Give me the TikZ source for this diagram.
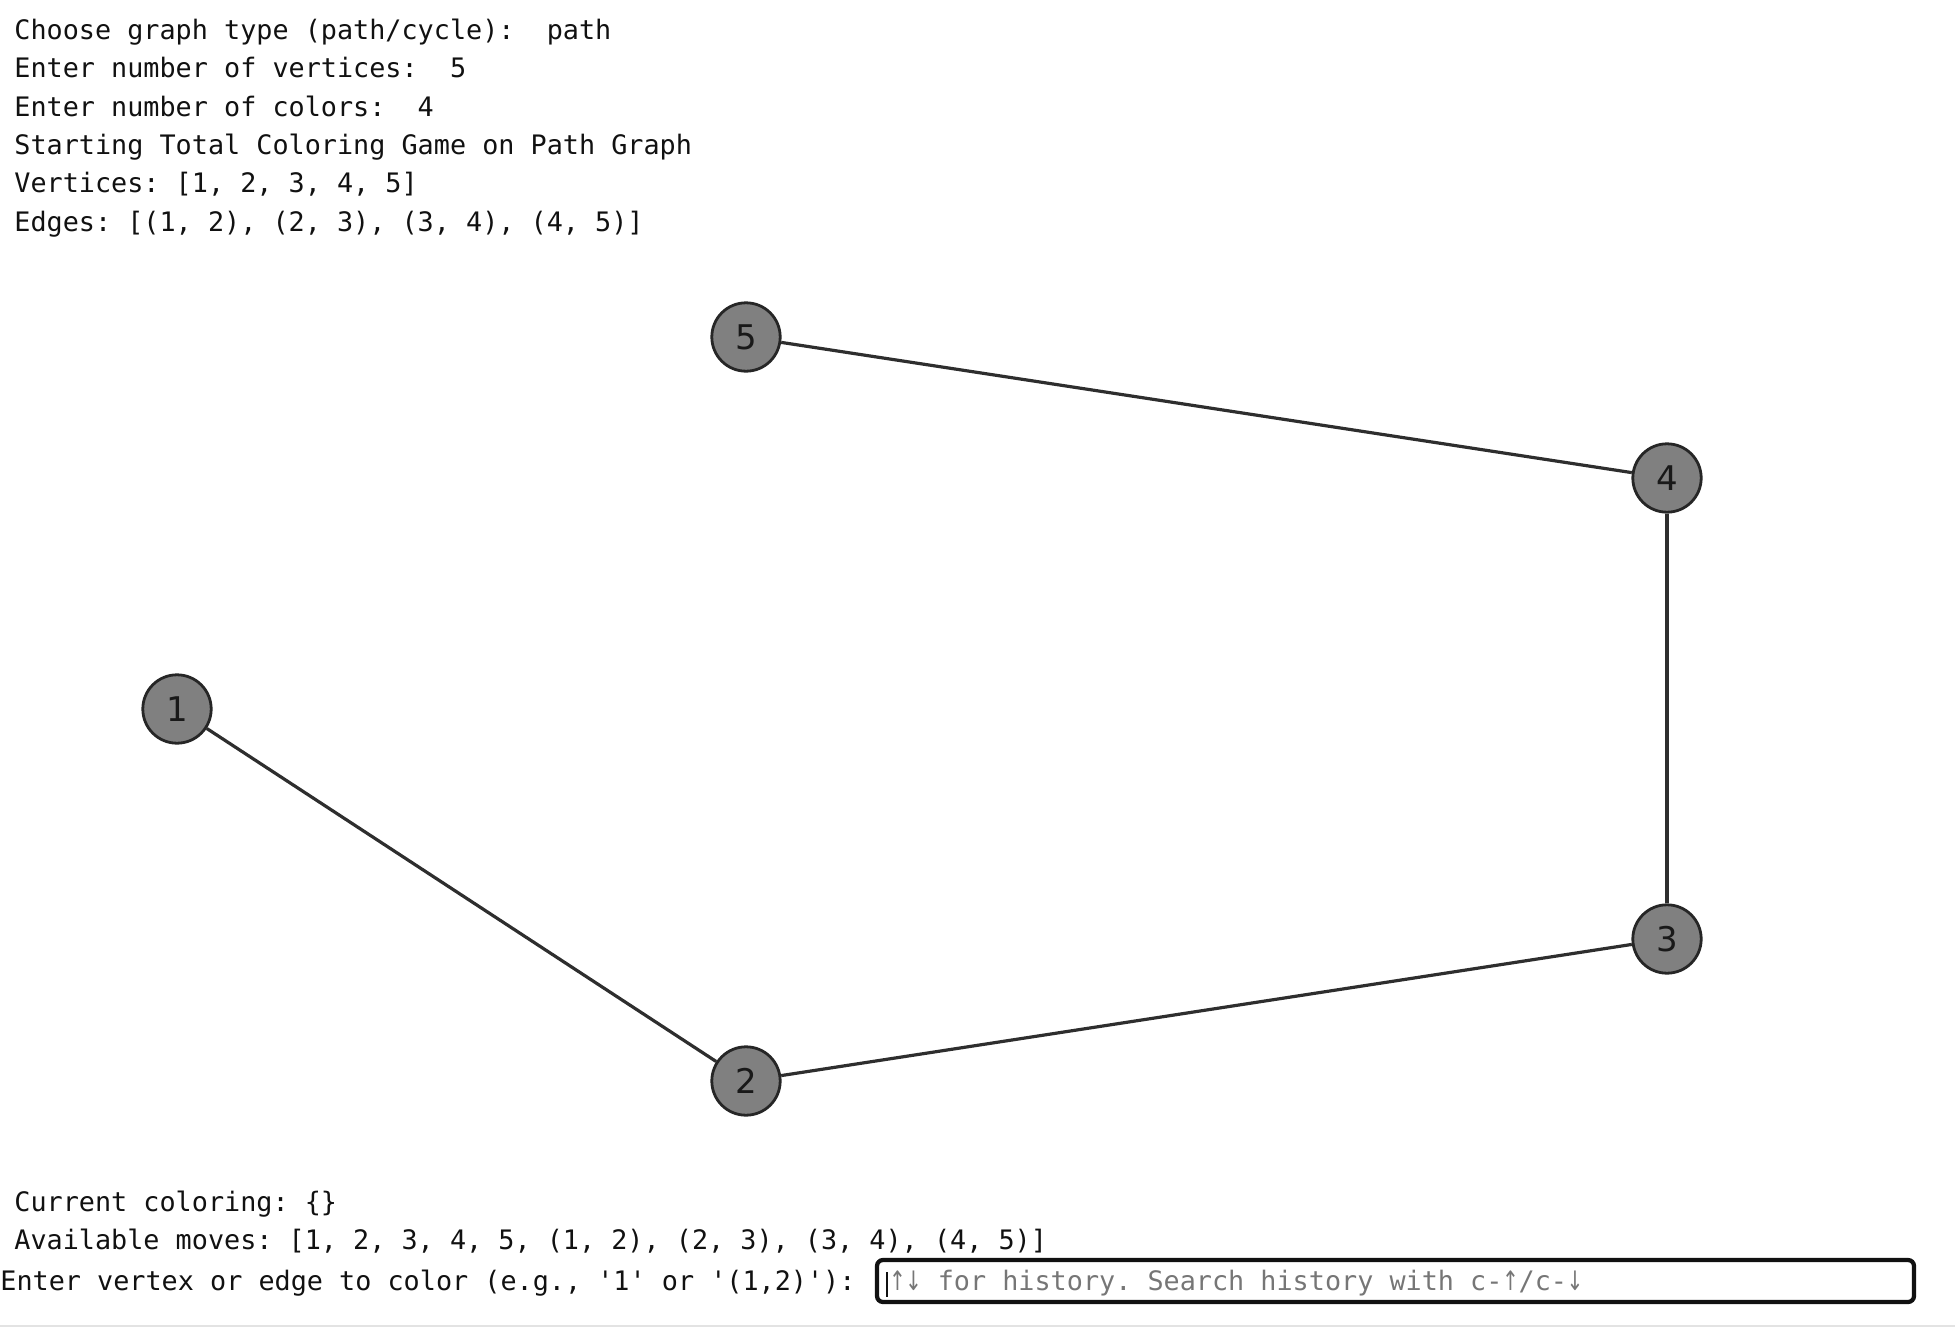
\documentclass[tikz,border=0pt]{standalone}
\usepackage{fontspec}
\newfontfamily\consolefont{DejaVu Sans Mono}
\newfontfamily\vertexfont{DejaVu Sans}
\definecolor{nodegray}{HTML}{808080}
\definecolor{edgegray}{HTML}{2E2E2E}
\definecolor{hintgray}{HTML}{767676}
\definecolor{consoleblack}{HTML}{111111}
\definecolor{rulegray}{HTML}{E3E3E3}
\newcommand{\cellarrow}[1]{\makebox[0.602em]{\vertexfont\scalebox{0.75}[1]{#1}}}
\frenchspacing

\begin{document}
\begin{tikzpicture}[x=0.5pt, y=-0.5pt,
vertex/.style={shape=circle, draw=black!85, line width=1.4pt, fill=nodegray,
	minimum size=34.2pt, inner sep=0pt,
	font=\vertexfont\fontsize{17pt}{20pt}\selectfont, text=black!90},
edgeline/.style={draw=edgegray, line width=1.6pt},
console/.style={anchor=base west, inner sep=0pt, text=consoleblack,
	font=\consolefont\fontsize{13.4pt}{16pt}\selectfont},
hint/.style={console, text=hintgray},
inputbox/.style={draw=consoleblack, line width=2.1pt, rounded corners=3pt}]

\useasboundingbox (0,0) rectangle (1955,1327);

% console output above the graph
\node[console] at (14, 39.5) (L1){Choose graph type (path/cycle):~ path};
\node[console] at (14, 77.8) (L2){Enter number of vertices:~ 5};
\node[console] at (14, 116.1) (L3){Enter number of colors:~ 4};
\node[console] at (14, 154.4) (L4){Starting Total Coloring Game on Path Graph};
\node[console] at (14, 192.7) (L5){Vertices: [1, 2, 3, 4, 5]};
\node[console] at (14, 231) (L6){Edges: [(1, 2), (2, 3), (3, 4), (4, 5)]};

% the path graph
\node[vertex] at (177, 709) (v1){1};
\node[vertex] at (746, 1081) (v2){2};
\node[vertex] at (1667, 939) (v3){3};
\node[vertex] at (1667, 478) (v4){4};
\node[vertex] at (746, 337) (v5){5};
\draw[edgeline] (v1) -- (v2);
\draw[edgeline] (v2) -- (v3);
\draw[edgeline] (v3) -- (v4);
\draw[edgeline] (v4) -- (v5);

% console output below the graph
\node[console] at (14, 1211.5) (C1){Current coloring: \{\}};
\node[console] at (14, 1249.5) (C2){Available moves: [1, 2, 3, 4, 5, (1, 2), (2, 3), (3, 4), (4, 5)]};
\node[console] at (0, 1290) (C3){Enter vertex or edge to color (e.g., \textquotesingle1\textquotesingle{} or \textquotesingle(1,2)\textquotesingle):};

% input field
\draw[inputbox] (877, 1260) rectangle (1914, 1302);
\draw[consoleblack, line width=0.7pt] (887, 1272) -- (887, 1297);
\node[hint] at (889, 1290) (H){\cellarrow{↑}\cellarrow{↓} for history. Search history with c-\cellarrow{↑}/c-\cellarrow{↓}};

\draw[rulegray, line width=1pt] (0, 1326) -- (1955, 1326);
\end{tikzpicture}
\end{document}
